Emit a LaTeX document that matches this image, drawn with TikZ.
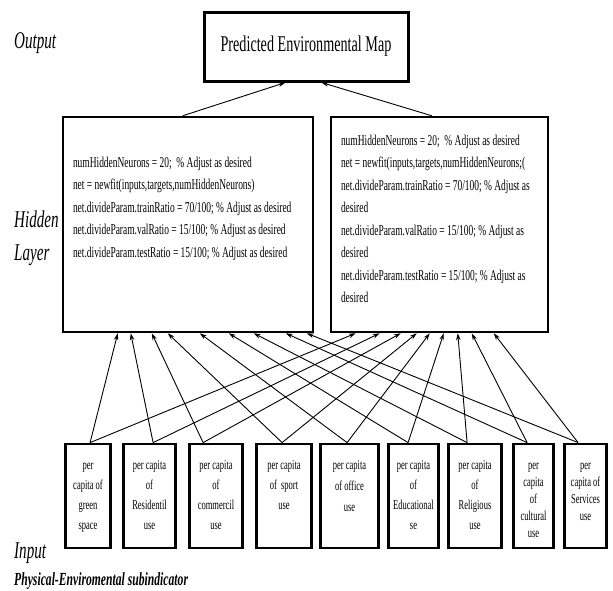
\documentclass[tikz,border=0pt]{standalone}
\usepackage{fontspec}
\setmainfont{Liberation Serif}[FakeStretch=0.63]
\usetikzlibrary{arrows.meta}
\newcommand{\cellbox}[3]{\parbox[c][104pt][t]{#1}{\centering\fontsize{13.5}{#2}\selectfont\rule{0pt}{25pt}#3}}
\newcommand{\codebox}[3]{\parbox[c][215pt][t]{#1}{\raggedright\rule{0pt}{#2}#3}}

\begin{document}
\begin{tikzpicture}[x=1pt,y=-1pt,
  lbl/.style={inner sep=0pt,font=\itshape\fontsize{24}{33}\selectfont},
  outbox/.style={draw,line width=3pt,minimum width=204pt,minimum height=69pt,font=\fontsize{22.5}{27}\selectfont},
  hid/.style={draw,line width=2.5pt,inner xsep=10pt,inner ysep=0pt,font=\fontsize{15}{22.5}\selectfont},
  inp/.style={draw,line width=2.8pt,inner sep=0pt},
  arr/.style={-{Stealth[length=7pt,width=4.5pt]},line width=0.9pt}]
\useasboundingbox (0,0) rectangle (613,590);

% labels
\node[lbl,anchor=base west] (lout) at (14,48) {Output};
\node[lbl,anchor=north west,align=left] (lhid) at (14,211) {Hidden\\Layer};
\node[lbl,anchor=base west] (lin) at (14,558) {Input};
\node[inner sep=0pt,anchor=base west,font=\bfseries\itshape\fontsize{18.5}{22}\selectfont] (lsub) at (14,585) {Physical-Enviromental subindicator};

% output and hidden layer
\node[outbox] (out) at (306,46.5) {Predicted Environmental Map};
\node[hid,minimum width=250pt] (hl) at (188,224.5) {\codebox{230pt}{50pt}{%
numHiddenNeurons = 20;~~\% Adjust as desired\\
net = newfit(inputs,targets,numHiddenNeurons)\\
net.divideParam.trainRatio = 70/100; \% Adjust as desired\\
net.divideParam.valRatio = 15/100; \% Adjust as desired\\
net.divideParam.testRatio = 15/100; \% Adjust as desired}};
\node[hid,minimum width=217pt] (hr) at (439.5,224.5) {\codebox{197pt}{28pt}{%
numHiddenNeurons = 20;~~\% Adjust as desired\\
net = newfit(inputs,targets,numHiddenNeurons;(\\
net.divideParam.trainRatio = 70/100; \% Adjust as\\
desired\\
net.divideParam.valRatio = 15/100; \% Adjust as\\
desired\\
net.divideParam.testRatio = 15/100; \% Adjust as\\
desired}};

% inputs
\node[inp] (b1) at (88,496) {\cellbox{45pt}{20pt}{per\\capita of\\green\\space}};
\node[inp] (b2) at (149.5,496) {\cellbox{52pt}{20pt}{per capita\\of\\Residentil\\use}};
\node[inp] (b3) at (216,496) {\cellbox{53pt}{20pt}{per capita\\of\\commercil\\use}};
\node[inp] (b4) at (284,496) {\cellbox{55pt}{20pt}{per capita\\of~~sport\\use}};
\node[inp] (b5) at (349.5,496) {\cellbox{58pt}{21pt}{per capita\\of office\\use}};
\node[inp] (b6) at (413.5,496) {\cellbox{50pt}{20pt}{per capita\\of\\Educational\\se}};
\node[inp] (b7) at (475,496) {\cellbox{53pt}{20pt}{per capita\\of\\Religious\\use}};
\node[inp] (b8) at (533.5,496) {\cellbox{40pt}{17pt}{per\\capita\\of\\cultural\\use}};
\node[inp] (b9) at (585.5,496) {\cellbox{42pt}{17pt}{per\\capita of\\Services\\use}};

\path[arr]
  ([xshift=121pt]hl.north west) edge ([xshift=83pt]out.south west)
  ([xshift=102pt]hr.north west) edge ([xshift=119pt]out.south west);
\path[arr] ([xshift=26pt]b1.north west) edge ([xshift=56pt]hl.south west) edge ([xshift=26pt]hr.south west);
\path[arr] ([xshift=31pt]b2.north west) edge ([xshift=69pt]hl.south west) edge ([xshift=50pt]hr.south west);
\path[arr] ([xshift=15pt]b3.north west) edge ([xshift=90pt]hl.south west) edge ([xshift=71pt]hr.south west);
\path[arr] ([xshift=27pt]b4.north west) edge ([xshift=106pt]hl.south west) edge ([xshift=87pt]hr.south west);
\path[arr] ([xshift=28pt]b5.north west) edge ([xshift=138pt]hl.south west) edge ([xshift=100pt]hr.south west);
\path[arr] ([xshift=21pt]b6.north west) edge ([xshift=167pt]hl.south west) edge ([xshift=114pt]hr.south west);
\path[arr] ([xshift=20pt]b7.north west) edge ([xshift=192pt]hl.south west) edge ([xshift=128pt]hr.south west);
\path[arr] ([xshift=15pt]b8.north west) edge ([xshift=224pt]hl.south west) edge ([xshift=142pt]hr.south west);
\path[arr] ([xshift=15pt]b9.north west) edge ([xshift=245pt]hl.south west) edge ([xshift=164pt]hr.south west);
\end{tikzpicture}
\end{document}
